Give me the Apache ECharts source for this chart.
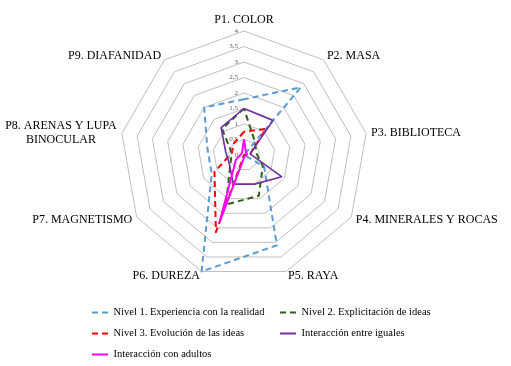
<!DOCTYPE html>
<html>
<head>
<meta charset="utf-8">
<script src="https://cdn.jsdelivr.net/npm/echarts@6/dist/echarts.min.js"></script>
<style>
html,body{margin:0;padding:0;background:#fff;}
#chart{width:511px;height:366px;}
</style>
</head>
<body>
<div id="chart"></div>
<script>
var categories = ['P1. COLOR','P2. MASA','P3. BIBLIOTECA','P4. MINERALES Y ROCAS','P5. RAYA','P6. DUREZA','P7. MAGNETISMO','P8. ARENAS Y LUPA\nBINOCULAR','P9. DIAFANIDAD'];
var tickLabels = ['0','0,5','1','1,5','2','2,5','3','3,5','4'];
var seriesNames = ['Nivel 1. Experiencia con la realidad','Nivel 2. Explicitación de ideas','Nivel 3. Evolución de las ideas','Interacción entre iguales','Interacción con adultos'];
var nivel1  = [1.8, 2.85, 0, 0.75, 3.1, 4, 1.2, 1.2, 2.0];
var nivel2  = [1.5, 0.55, 0.4, 0.7, 1.4, 1.7, 0.5, 0.4, 1.1];
var nivel3  = [0.75, 1.1, 0.2, 0, 0, 2.65, 1.1, 0.4, 0.5];
var iguales = [1.5, 1.45, 0.2, 1.4, 1.0, 1.0, 0.55, 0.6, 1.15];
var adultos = [0.5, 0.1, 0.1, 0.05, 0.05, 2.3, 0.3, 0.1, 0.1];

var colors = ['#5B9BD5','#2F5F1A','#FF0000','#7030A0','#FF00FF'];
var dashed = [true, true, true, false, false];
var widths = [2, 2, 2, 1.6, 2];
var values = [nivel1, nivel2, nivel3, iguales, adultos];

// ECharts lays radar indicators counter-clockwise; reorder so they run clockwise
var order = [0,8,7,6,5,4,3,2,1];
function reorder(arr){ return order.map(function(i){ return arr[i]; }); }

var serif = 'Liberation Serif';
var indicators = reorder(categories).map(function(n, k){
  var ind = {name: n, min: 0, max: 4};
  if (k === 0) {
    ind.axisLabel = {show: true, fontSize: 7, color: '#595959', fontFamily: serif, margin: 6,
      formatter: function(v){ var idx = Math.round(v/0.5); return tickLabels[idx] !== undefined ? tickLabels[idx] : ''; }};
  }
  return ind;
});

var dashIcon = 'path://M0,0h6v2h-6zM10,0h6v2h-6z';
var solidIcon = 'path://M0,0h16v2h-16z';

var legendPos = [[87,302],[275,302],[87,323],[275,323],[87,344]];
var legends = seriesNames.map(function(n, i){
  return {
    data: [{name: n, icon: dashed[i] ? dashIcon : solidIcon}],
    left: legendPos[i][0], top: legendPos[i][1],
    itemWidth: 17, itemHeight: 2, itemGap: 5,
    textStyle: {fontFamily: serif, fontSize: 10.5, color: '#000'}
  };
});

var series = [{
  type: 'radar',
  symbol: 'none',
  silent: true,
  data: values.map(function(v, i){
    return {
      name: seriesNames[i],
      value: reorder(v),
      itemStyle: {color: colors[i]},
      lineStyle: {color: colors[i], width: widths[i], type: dashed[i] ? [6,4] : 'solid'}
    };
  })
}];

var chart = echarts.init(document.getElementById('chart'), null, {renderer: 'canvas'});
chart.setOption({
  animation: false,
  legend: legends,
  radar: {
    center: [244, 155],
    radius: 124,
    startAngle: 90,
    splitNumber: 8,
    shape: 'polygon',
    indicator: indicators,
    nameGap: 5,
    axisName: {
      color: '#000', fontFamily: serif, fontSize: 12,
      formatter: function(name){
        var parts = name.split('\n');
        if (parts.length > 1) {
          return parts.map(function(p){ return '{c|' + p + '}'; }).join('\n');
        }
        return name;
      },
      rich: {c: {width: 112, align: 'center', fontFamily: serif, fontSize: 12, color: '#000', lineHeight: 14}}
    },
    axisLine: {show: false},
    axisTick: {show: false},
    axisLabel: {show: false},
    splitArea: {show: false},
    splitLine: {lineStyle: {color: '#BFBFBF', width: 1}}
  },
  series: series
});
</script>
</body>
</html>
